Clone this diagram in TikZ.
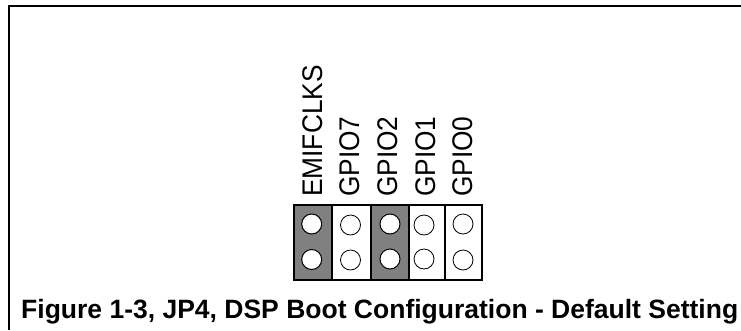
\documentclass[tikz,border=0pt]{standalone}
\usepackage{fontspec}
\setmainfont{Liberation Sans}
\tikzset{
  frameline/.style={black,line width=2.4pt},
  bay/.style={draw=black,line width=2.6pt,anchor=north west,inner sep=0pt,outer sep=0pt},
  onbay/.style={bay,fill=black!50},
  offbay/.style={bay,fill=white},
  pinon/.style={circle,draw=black,fill=white,line width=1pt,minimum size=20pt,inner sep=0pt},
  pinoff/.style={circle,draw=black,fill=white,line width=.8pt,minimum size=20pt,inner sep=0pt},
  pinlabel/.style={rotate=90,anchor=base west,inner sep=0pt,yscale=1.08,font=\fontsize{26.3}{27}\selectfont},
  caption/.style={anchor=base west,inner sep=0pt,font=\bfseries\fontsize{26.5}{28}\selectfont}
}
\begin{document}
\begin{tikzpicture}[x=1pt,y=-1pt]
\useasboundingbox (0,0) rectangle (741,330);
\coordinate (tl) at (9,6);
\coordinate (tr) at (741,6);
\coordinate (bl) at (9,330);
\draw[frameline] (bl) -- (tl) -- (tr);
\node[onbay,minimum width=38pt,minimum height=75pt] (b1) at (294,205) {};
\node[offbay,minimum width=39pt,minimum height=75pt] (b2) at (332,205) {};
\node[onbay,minimum width=38pt,minimum height=75pt] (b3) at (371,205) {};
\node[offbay,minimum width=36pt,minimum height=75pt] (b4) at (409,205) {};
\node[offbay,minimum width=37pt,minimum height=75pt] (b5) at (445,205) {};
\node[pinon] (p1a) at (311.7,224) {};
\node[pinon] (p1b) at (311.7,259.5) {};
\node[pinoff] (p2a) at (350.5,225) {};
\node[pinoff] (p2b) at (350.5,260) {};
\node[pinon] (p3a) at (390,224) {};
\node[pinon] (p3b) at (390,259) {};
\node[pinoff] (p4a) at (424,225) {};
\node[pinoff] (p4b) at (424,259) {};
\node[pinoff] (p5a) at (463,224) {};
\node[pinoff] (p5b) at (463,260) {};
\node[pinlabel] (l1) at (322,197) {EMIFCLKS};
\node[pinlabel] (l2) at (359.5,197) {GPIO7};
\node[pinlabel] (l3) at (397.5,197) {GPIO2};
\node[pinlabel] (l4) at (435,197) {GPIO1};
\node[pinlabel] (l5) at (472,197) {GPIO0};
\node[caption] (cap) at (21,318) {Figure 1-3, JP4, DSP Boot Configuration - Default Setting};
\end{tikzpicture}
\end{document}
